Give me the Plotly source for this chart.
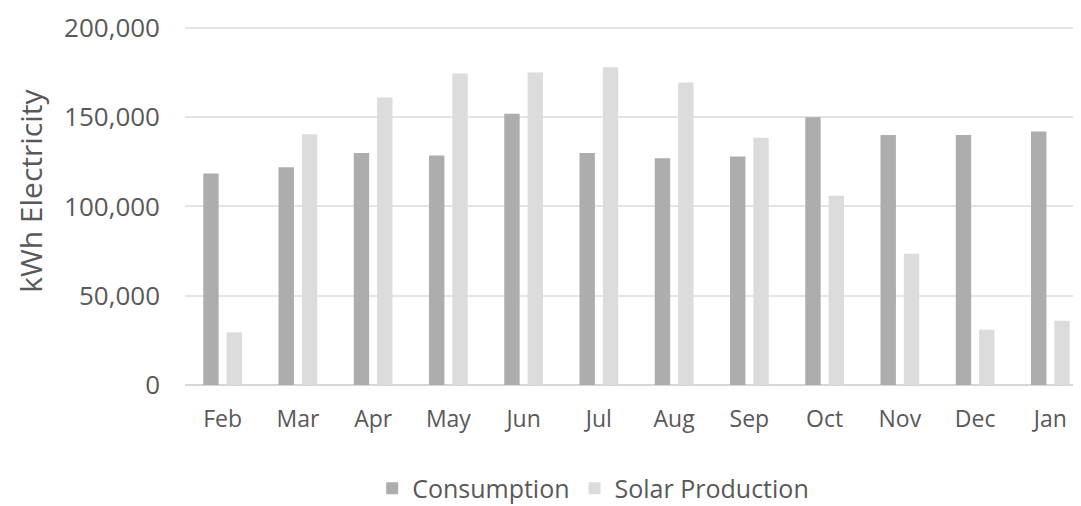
import plotly.graph_objects as go

months = ["Feb", "Mar", "Apr", "May", "Jun", "Jul", "Aug", "Sep", "Oct", "Nov", "Dec", "Jan"]
consumption = [118500, 122000, 130000, 128500, 152000, 130000, 127000, 128000, 150000, 140000, 140000, 142000]
solar_production = [29500, 140500, 161000, 174500, 175000, 178000, 169500, 138500, 106000, 73500, 31000, 36000]
y_ticks = [0, 50000, 100000, 150000, 200000]
y_tick_labels = ["0", "50,000", "100,000", "150,000", "200,000"]

FONT = "Open Sans"
TXT = "#595959"

fig = go.Figure()
fig.add_trace(go.Bar(name="Consumption", x=months, y=consumption, marker=dict(color="#adadad", line_width=0)))
fig.add_trace(go.Bar(name="Solar Production", x=months, y=solar_production, marker=dict(color="#dcdcdc", line_width=0)))

fig.update_layout(
    width=1081, height=506,
    margin=dict(l=177, r=1, t=14, b=129),
    paper_bgcolor="white", plot_bgcolor="white",
    barmode="group", bargap=0.38, bargroupgap=0.34,
    font=dict(family=FONT, color=TXT),
    showlegend=True,
    legend=dict(orientation="h", x=0.452, xanchor="center", y=-0.288, yanchor="middle",
                font=dict(size=25, color=TXT, family=FONT), itemwidth=30, traceorder="normal"),
    xaxis=dict(showgrid=False, showline=False, ticks="", tickfont=dict(size=23, color=TXT, family=FONT),
               ticklabelstandoff=18),
    yaxis=dict(range=[0, 201100], tickvals=y_ticks, ticktext=y_tick_labels, showgrid=True,
               gridcolor="#e4e4e4", gridwidth=1.5, zeroline=True, zerolinecolor="#d6d6d6", zerolinewidth=2,
               showline=False, ticks="", tickfont=dict(size=26, color=TXT, family=FONT),
               ticklabelstandoff=24, ticklabeloverflow="allow"),
    annotations=[dict(text="kWh Electricity", xref="paper", yref="paper", x=-0.172, y=0.54,
                      xanchor="center", yanchor="middle", textangle=-90, showarrow=False,
                      font=dict(size=30, color=TXT, family=FONT))],
)

fig.write_html("out.html")
